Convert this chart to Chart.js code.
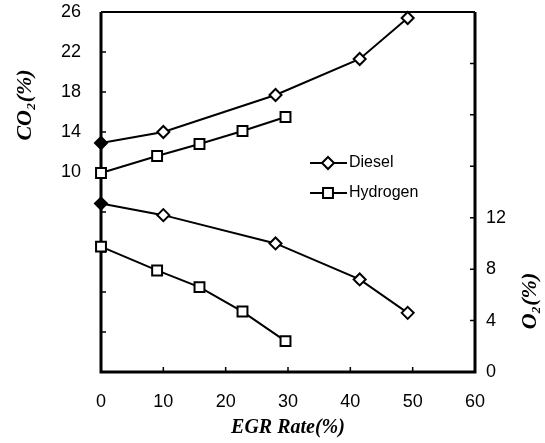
<!DOCTYPE html>
<html>
<head>
<meta charset="utf-8">
<script src="https://cdn.jsdelivr.net/npm/chart.js@4/dist/chart.umd.min.js"></script>
<style>
  html, body { margin: 0; padding: 0; background: #fff; }
  #wrap { width: 545px; height: 443px; }
</style>
</head>
<body>
<div id="wrap"><canvas id="chart" width="545" height="443"></canvas></div>
<script>
// values
const fuels = ['Diesel', 'Hydrogen'];
const egrDiesel = [0, 10, 28, 41.5, 49.2];
const co2Diesel = [12.9, 14.0, 17.7, 21.3, 25.4];
const o2Diesel = [13.1, 12.2, 10.0, 7.2, 4.6];
const egrHydrogen = [0, 9, 15.8, 22.7, 29.6];
const co2Hydrogen = [9.9, 11.6, 12.8, 14.1, 15.5];
const o2Hydrogen = [9.75, 7.9, 6.6, 4.7, 2.4];

const xTicks = [0, 10, 20, 30, 40, 50, 60];
const co2Ticks = [-10, -6, -2, 2, 6, 10, 14, 18, 22, 26];
const co2Labels = [10, 14, 18, 22, 26];
const o2Ticks = [0, 4, 8, 12, 16, 20, 24, 28];
const o2Labels = [0, 4, 8, 12];

const tickFont = { family: 'Liberation Sans, Arial, sans-serif', size: 18 };
const xTitleFont = 'bold italic 20px "Liberation Serif", "Times New Roman", serif';
const yTitleFont = 'bold italic 22px "Liberation Serif", "Times New Roman", serif';

function pts(xs, ys) {
  return xs.map((x, i) => ({ x: x, y: ys[i] }));
}

function series(label, xs, ys, axis, style) {
  return {
    label: label,
    data: pts(xs, ys),
    yAxisID: axis,
    borderColor: '#000',
    borderWidth: 2,
    pointStyle: style,
    pointRadius: style === 'rect' ? 7 : 6,
    pointBorderWidth: 2,
    pointBorderColor: '#000',
    pointBackgroundColor: (c) => (style === 'rectRot' && c.dataIndex === 0) ? '#000' : '#fff',
    tension: 0,
    clip: false,
  };
}

function noPad(s) {
  s.paddingTop = 0;
  s.paddingBottom = 0;
  s.paddingLeft = 0;
  s.paddingRight = 0;
}

function vTitle(ctx, text, x, y) {
  ctx.save();
  ctx.font = yTitleFont;
  ctx.fillStyle = '#000';
  ctx.textAlign = 'center';
  ctx.textBaseline = 'middle';
  ctx.translate(x, y);
  ctx.rotate(-Math.PI / 2);
  ctx.fillText(text, 0, 0);
  ctx.restore();
}

const frame = {
  id: 'frame',
  beforeDatasetsDraw(chart) {
    const { ctx, chartArea: a, scales } = chart;
    ctx.save();
    ctx.strokeStyle = '#000';
    ctx.lineWidth = 1.5;
    ctx.beginPath();
    scales.y.ticks.forEach(t => {
      const p = scales.y.getPixelForValue(t.value);
      ctx.moveTo(a.left, p); ctx.lineTo(a.left + 5, p);
    });
    scales.y2.ticks.forEach(t => {
      const p = scales.y2.getPixelForValue(t.value);
      ctx.moveTo(a.right - 5, p); ctx.lineTo(a.right, p);
    });
    scales.x.ticks.forEach(t => {
      const p = scales.x.getPixelForValue(t.value);
      ctx.moveTo(p, a.bottom); ctx.lineTo(p, a.bottom - 5);
    });
    ctx.stroke();
    ctx.lineWidth = 3;
    ctx.beginPath();
    ctx.moveTo(a.left, a.top); ctx.lineTo(a.left, a.bottom);
    ctx.lineTo(a.right, a.bottom); ctx.lineTo(a.right, a.top);
    ctx.stroke();
    ctx.lineWidth = 2;
    ctx.beginPath();
    ctx.moveTo(a.left, a.top); ctx.lineTo(a.right, a.top);
    ctx.stroke();
    ctx.restore();
  },
  afterDraw(chart) {
    const { ctx, chartArea: a } = chart;
    ctx.save();
    ctx.fillStyle = '#000';
    ctx.font = xTitleFont;
    ctx.textAlign = 'center';
    ctx.textBaseline = 'middle';
    ctx.fillText('EGR Rate(%)', (a.left + a.right) / 2, 428);
    ctx.restore();
    vTitle(ctx, 'CO\u2082(%)', 25, 105);
    vTitle(ctx, 'O\u2082(%)', 530, 301);

    // legend inside the plot
    const styles = ['rectRot', 'rect'];
    ctx.save();
    ctx.font = '16px "Liberation Sans", Arial, sans-serif';
    ctx.textBaseline = 'middle';
    fuels.forEach((name, i) => {
      const y = 163 + i * 30;
      ctx.strokeStyle = '#000';
      ctx.lineWidth = 2;
      ctx.beginPath();
      ctx.moveTo(310, y); ctx.lineTo(347, y);
      ctx.stroke();
      ctx.fillStyle = '#fff';
      Chart.helpers.drawPoint(ctx, { pointStyle: styles[i], radius: styles[i] === 'rect' ? 7 : 6, borderWidth: 2, rotation: 0 }, 328, y);
      ctx.fillStyle = '#000';
      ctx.fillText(name, 349, y);
    });
    ctx.restore();
  }
};

new Chart(document.getElementById('chart').getContext('2d'), {
  type: 'line',
  data: {
    datasets: [
      series(fuels[0], egrDiesel, co2Diesel, 'y', 'rectRot'),
      series(fuels[1], egrHydrogen, co2Hydrogen, 'y', 'rect'),
      series(fuels[0], egrDiesel, o2Diesel, 'y2', 'rectRot'),
      series(fuels[1], egrHydrogen, o2Hydrogen, 'y2', 'rect'),
    ],
  },
  options: {
    responsive: false,
    animation: false,
    layout: { padding: { top: 12, left: 0, right: 0, bottom: 0 } },
    plugins: { legend: { display: false }, tooltip: { enabled: false } },
    scales: {
      x: {
        type: 'linear',
        min: 0,
        max: 60,
        afterBuildTicks: (s) => { s.ticks = xTicks.map(v => ({ value: v })); },
        afterFit: (s) => { s.height = 71; noPad(s); },
        grid: { display: false, drawTicks: false },
        border: { display: false },
        ticks: { color: '#000', font: tickFont, padding: 19, maxRotation: 0 },
      },
      y: {
        position: 'left',
        min: -10,
        max: 26,
        afterBuildTicks: (s) => { s.ticks = co2Ticks.map(v => ({ value: v })); },
        afterFit: (s) => { s.width = 101; noPad(s); },
        grid: { display: false, drawTicks: false },
        border: { display: false },
        ticks: {
          color: '#000', font: tickFont, padding: 20,
          callback: (v) => co2Labels.includes(v) ? String(v) : '',
        },
      },
      y2: {
        position: 'right',
        min: 0,
        max: 28,
        afterBuildTicks: (s) => { s.ticks = o2Ticks.map(v => ({ value: v })); },
        afterFit: (s) => { s.width = 70; noPad(s); },
        grid: { display: false, drawTicks: false },
        border: { display: false },
        ticks: {
          color: '#000', font: tickFont, padding: 11,
          callback: (v) => o2Labels.includes(v) ? String(v) : '',
        },
      },
    },
  },
  plugins: [frame],
});
</script>
</body>
</html>
